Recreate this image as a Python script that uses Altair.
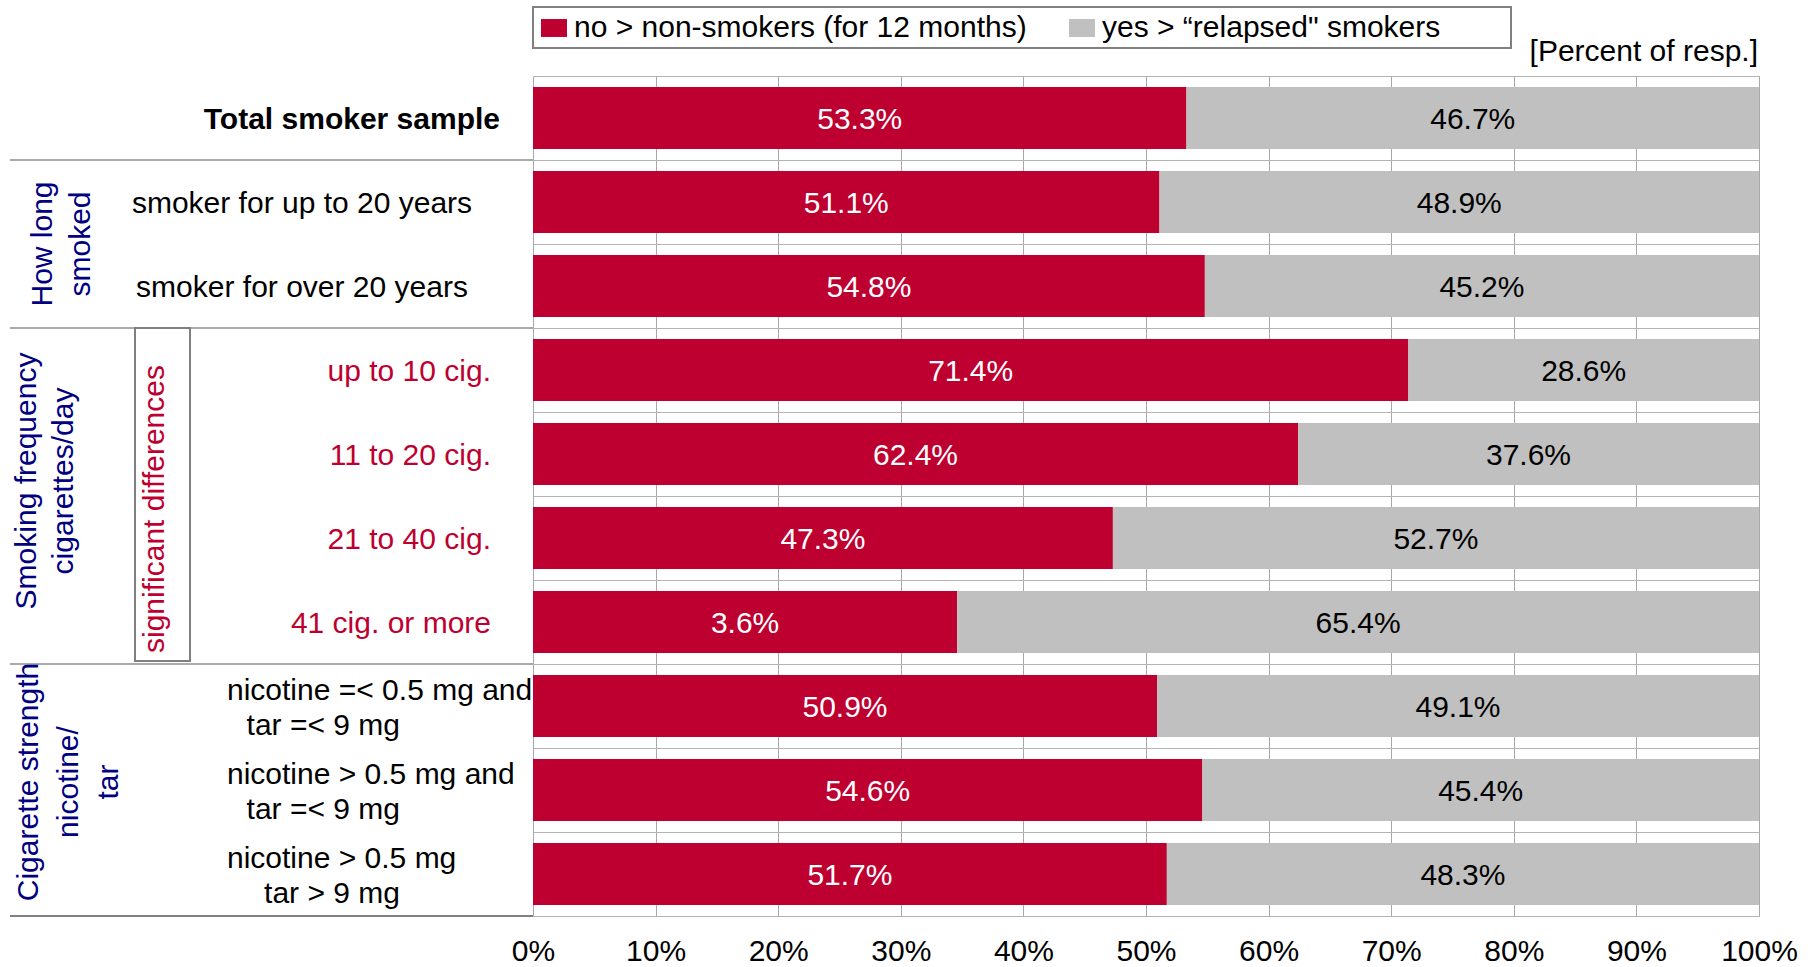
import altair as alt
import pandas as pd

FONT = "Liberation Sans, Arial, sans-serif"
RED = "#BE0030"
GREY = "#C0C0C0"
NAVY = "#000080"

categories = [
    "Total smoker sample",
    "smoker for up to 20 years",
    "smoker for over 20 years",
    "up to 10 cig.",
    "11 to 20 cig.",
    "21 to 40 cig.",
    "41 cig. or more",
    "nicotine =< 0.5 mg and\ntar =< 9 mg",
    "nicotine > 0.5 mg and\ntar =< 9 mg",
    "nicotine > 0.5 mg\ntar > 9 mg",
]
groups = ["total", "how", "how", "freq", "freq", "freq", "freq",
          "strength", "strength", "strength"]
no_values = [53.3, 51.1, 54.8, 71.4, 62.4, 47.3, 34.6, 50.9, 54.6, 51.7]
yes_values = [46.7, 48.9, 45.2, 28.6, 37.6, 52.7, 65.4, 49.1, 45.4, 48.3]
no_labels = ["53.3%", "51.1%", "54.8%", "71.4%", "62.4%", "47.3%", "3.6%",
             "50.9%", "54.6%", "51.7%"]
yes_labels = ["46.7%", "48.9%", "45.2%", "28.6%", "37.6%", "52.7%", "65.4%",
              "49.1%", "45.4%", "48.3%"]
series = ["no > non-smokers (for 12 months)", "yes > \u201crelapsed\" smokers"]
group_titles = {
    "how": "How long\nsmoked",
    "freq": "Smoking frequency\ncigarettes/day",
    "strength": "Cigarette strength\nnicotine/\ntar",
}
note_text = "significant differences"
unit_text = "[Percent of resp.]"
x_ticks = [0, 10, 20, 30, 40, 50, 60, 70, 80, 90, 100]

# ---- tables built from the arrays ----
bar_rows = []
for i in range(len(categories)):
    bar_rows.append(dict(i=i, series=series[0], start=0.0, end=no_values[i], label=no_labels[i]))
    bar_rows.append(dict(i=i, series=series[1], start=no_values[i],
                         end=no_values[i] + yes_values[i], label=yes_labels[i]))
bars_df = pd.DataFrame(bar_rows)

cat_rows = []
for i, (c, g) in enumerate(zip(categories, groups)):
    parts = c.split("\n")
    cat_rows.append(dict(i=i, cat=c, grp=g, line1=parts[0],
                         line2=parts[1] if len(parts) > 1 else ""))
cat_df = pd.DataFrame(cat_rows)

bounds = [i for i in range(1, len(groups)) if groups[i] != groups[i - 1]] + [len(groups)]
sep_df = pd.DataFrame({"b": bounds})

n = len(categories)
xscale = alt.Scale(domain=[0, 100], nice=False, zero=False)
yscale = alt.Scale(domain=[0, n], reverse=True, nice=False, zero=False)

# frame drawn behind the legend entries
legend_frame = alt.Chart(pd.DataFrame({"k": [0]})).mark_rect(
    fill="white", stroke="#808080", strokeWidth=2
).encode(x=alt.value(0), x2=alt.value(978), y=alt.value(-69), y2=alt.value(-28))

bars = alt.Chart(bars_df).transform_calculate(
    y0="datum.i + 0.131", y1="datum.i + 0.869"
).mark_bar(strokeWidth=0).encode(
    x=alt.X("start:Q", scale=xscale,
            axis=alt.Axis(values=x_ticks, labelExpr="datum.value + '%'", grid=True,
                          gridColor="#A8A8A8", gridWidth=1, ticks=False, tickSize=0,
                          domain=False, labelFontSize=30, labelFont=FONT,
                          labelColor="black", labelPadding=20, labelFlush=False,
                          labelOverlap=False, labelBound=False, title=None)),
    x2="end:Q",
    y=alt.Y("y0:Q", scale=yscale,
            axis=alt.Axis(values=list(range(n + 1)), grid=True, gridColor="#B4B4B4",
                          gridWidth=1, labels=False, ticks=False, domain=False, title=None)),
    y2="y1:Q",
    color=alt.Color("series:N",
                    scale=alt.Scale(domain=series, range=[RED, GREY]),
                    legend=alt.Legend(orient="none", legendX=0, legendY=-69,
                                      direction="horizontal", columns=2, title=None,
                                      labelFontSize=30, labelFont=FONT, labelColor="black",
                                      labelLimit=1000, labelOffset=5,
                                      symbolType="M-1,-0.69H1V0.69H-1Z", symbolSize=676,
                                      symbolStrokeWidth=0, padding=6, columnPadding=40)),
)

bar_text = alt.Chart(bars_df).transform_calculate(
    mid="(datum.start + datum.end) / 2", ym="datum.i + 0.5"
).mark_text(fontSize=30, font=FONT, align="center", baseline="middle", yOffset=2).encode(
    x=alt.X("mid:Q", scale=xscale),
    y=alt.Y("ym:Q", scale=yscale),
    text="label:N",
    color=alt.condition("datum.start == 0", alt.value("white"), alt.value("black")),
)

base_cat = alt.Chart(cat_df).transform_calculate(ym="datum.i + 0.5")

lab_total = base_cat.transform_filter("datum.grp == 'total'").mark_text(
    fontSize=30, font=FONT, fontWeight="bold", align="right", baseline="middle",
    color="black", yOffset=2
).encode(x=alt.value(-33), y=alt.Y("ym:Q", scale=yscale), text="cat:N")

lab_how = base_cat.transform_filter("datum.grp == 'how'").mark_text(
    fontSize=30, font=FONT, align="center", baseline="middle", color="black", yOffset=2
).encode(x=alt.value(-231), y=alt.Y("ym:Q", scale=yscale), text="cat:N")

lab_freq = base_cat.transform_filter("datum.grp == 'freq'").mark_text(
    fontSize=30, font=FONT, align="right", baseline="middle", color=RED, yOffset=2
).encode(x=alt.value(-42), y=alt.Y("ym:Q", scale=yscale), text="cat:N")

lab_str1 = base_cat.transform_filter("datum.grp == 'strength'").mark_text(
    fontSize=30, font=FONT, align="left", baseline="middle", color="black", yOffset=-15
).encode(x=alt.value(-306), y=alt.Y("ym:Q", scale=yscale), text="line1:N")

lab_str2 = base_cat.transform_filter("datum.grp == 'strength'").mark_text(
    fontSize=30, font=FONT, align="right", baseline="middle", color="black", yOffset=20
).encode(x=alt.value(-133), y=alt.Y("ym:Q", scale=yscale), text="line2:N")

def group_title(key, x_px, y_rows, y_off, lh):
    return alt.Chart(pd.DataFrame({"k": [key]})).mark_text(
        text=group_titles[key], lineBreak="\n", lineHeight=lh, angle=270,
        fontSize=30, font=FONT, align="center", baseline="middle", color=NAVY,
        yOffset=y_off
    ).encode(x=alt.value(x_px), y=alt.datum(y_rows, scale=yscale))

gt_how = group_title("how", -490, 2, 0, 38)
gt_freq = group_title("freq", -506, 5, -15, 37)
gt_str = group_title("strength", -504, 8.5, -8, 40)

seps = alt.Chart(sep_df).mark_rule(strokeWidth=2).encode(
    x=alt.value(-523), x2=alt.value(0),
    y=alt.Y("b:Q", scale=yscale),
    color=alt.condition("datum.b == %d" % n, alt.value("#808080"), alt.value("#AAAAAA")),
)

note_box = alt.Chart(pd.DataFrame({"k": [0]})).mark_rect(
    fillOpacity=0, stroke="#808080", strokeWidth=2, y2Offset=-3
).encode(x=alt.value(-398), x2=alt.value(-343),
         y=alt.datum(3, scale=yscale), y2=alt.datum(7))

note_txt = alt.Chart(pd.DataFrame({"k": [0]})).mark_text(
    text=note_text, angle=270, fontSize=30, font=FONT, align="left",
    baseline="middle", color=RED, yOffset=-11
).encode(x=alt.value(-378), y=alt.datum(7, scale=yscale))

unit = alt.Chart(pd.DataFrame({"k": [0]})).mark_text(
    text=unit_text, fontSize=30, font=FONT, align="right", baseline="alphabetic",
    color="black", dx=-1
).encode(x=alt.datum(100, scale=xscale), y=alt.value(-15))

chart = alt.layer(
    legend_frame, bars, bar_text, seps, lab_total, lab_how, lab_freq, lab_str1, lab_str2,
    gt_how, gt_freq, gt_str, note_box, note_txt, unit
).properties(
    width=1226, height=840,
    padding={"left": 533, "top": 76, "right": 52, "bottom": 51},
    autosize=alt.AutoSizeParams(type="none"),
    background="white",
).configure_view(
    stroke="#808080", strokeWidth=2
).configure(font=FONT)

chart.save("out.html", embed_options={"renderer": "svg", "actions": False})
